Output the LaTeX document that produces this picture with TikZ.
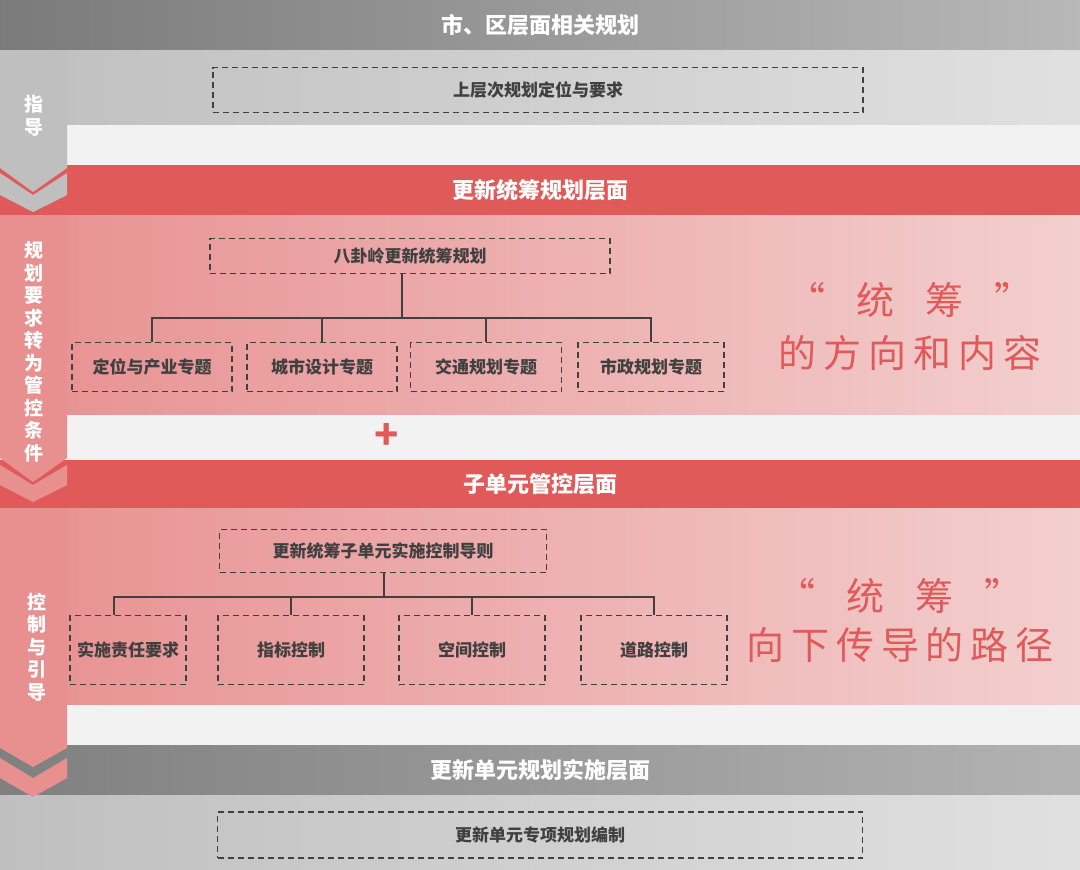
\documentclass[tikz,border=0pt]{standalone}
\usepackage{fontspec}
\setmainfont{Noto Sans CJK SC}
\usepackage{tikz}
\usetikzlibrary{positioning}
\definecolor{barred}{HTML}{E05A5A}
\definecolor{pinkband}{HTML}{E89090}
\definecolor{pinklight}{HTML}{F3CFCF}
\definecolor{boxtext}{HTML}{404040}
\tikzset{
  dbox/.style = {draw=boxtext, dashed, line width=1.3pt, dash pattern=on 6pt off 4pt,
                 font=\fontsize{17}{17}\selectfont\bfseries, text=boxtext, inner sep=0pt},
  bartitle/.style = {text=white, font=\fontsize{22}{22}\selectfont\bfseries},
  sidetext/.style = {text=white, font=\fontsize{19}{22.5}\selectfont\bfseries, align=center},
  bigred/.style = {text=barred, font=\fontsize{38}{38}\selectfont\addfontfeatures{LetterSpace=18}},
  branch/.style = {draw=boxtext, line width=1.3pt}
}
\begin{document}
\begin{tikzpicture}[x=1pt, y=-1pt]
        \useasboundingbox (0,0) rectangle (1080,870);
        % bands
        \shade [left color=black!52, right color=black!28] (0,0) rectangle (1080,50);
        \shade [left color=black!25, right color=black!12] (0,50) rectangle (1080,125);
        \fill [black!5] (0,125) rectangle (1080,165);
        \fill [barred] (0,165) rectangle (1080,215);
        \shade [left color=pinkband, right color=pinklight] (0,215) rectangle (1080,415);
        \fill [black!5] (0,415) rectangle (1080,460);
        \fill [barred] (0,460) rectangle (1080,508);
        \shade [left color=pinkband, right color=pinklight] (0,508) rectangle (1080,705);
        \fill [black!5] (0,705) rectangle (1080,745);
        \shade [left color=black!50, right color=black!30] (0,745) rectangle (1080,795);
        \shade [left color=black!25, right color=black!12] (0,795) rectangle (1080,870);

        % titles
        \node [bartitle] (t1) at (540,25) {市、区层面相关规划};
        \node [bartitle] (t2) at (540,190) {更新统筹规划层面};
        \node [bartitle] (t3) at (540,484) {子单元管控层面};
        \node [bartitle] (t4) at (540,770) {更新单元规划实施层面};

        % boxes
        \node [dbox, minimum width=650pt, minimum height=45pt] (up) at (538,90) {上层次规划定位与要求};
        \node [dbox, minimum width=400pt, minimum height=35pt] (bgl) at (410,256) {八卦岭更新统筹规划};
        \node [dbox, minimum width=160pt, minimum height=49pt] (a1) at (152,367) {定位与产业专题};
        \node [dbox, minimum width=150pt, minimum height=49pt] (a2) at (322,367) {城市设计专题};
        \node [dbox, minimum width=151pt, minimum height=49pt] (a3) at (486,367) {交通规划专题};
        \node [dbox, minimum width=146pt, minimum height=49pt] (a4) at (651,367) {市政规划专题};
        \node [dbox, minimum width=327pt, minimum height=43pt] (sub) at (383,551) {更新统筹子单元实施控制导则};
        \node [dbox, minimum width=116pt, minimum height=69pt, text width=116pt, align=center] (b1) at (128,650) {实施责任要求};
        \node [dbox, minimum width=146pt, minimum height=69pt] (b2) at (291,650) {指标控制};
        \node [dbox, minimum width=146pt, minimum height=69pt] (b3) at (472,650) {空间控制};
        \node [dbox, minimum width=146pt, minimum height=69pt] (b4) at (654,650) {道路控制};
        \node [dbox, minimum width=645pt, minimum height=46pt] (impl) at (540,835) {更新单元专项规划编制};

        % branches
        \coordinate (j1) at (402,318);
        \draw [branch] (402,273) -- (j1);
        \draw [branch] (a1.north) |- (j1) -| (a4.north);
        \draw [branch] (a2.north) -- (a2.north |- j1);
        \draw [branch] (a3.north) -- (a3.north |- j1);
        \coordinate (j2) at (384,597);
        \draw [branch] (sub.south -| j2) -- (j2);
        \draw [branch] (114,615) |- (j2) -| (b4.north);
        \draw [branch] (b2.north) -- (b2.north |- j2);
        \draw [branch] (b3.north) -- (b3.north |- j2);

        \node [text=barred, font=\fontsize{40}{40}\selectfont\bfseries] (plus) at (387,436) {+};

        % side arrows
        \fill [black!25] (0,50) -- (67,50) -- (67,168) -- (33,192) -- (0,168) -- cycle;
        \fill [black!25] (0,173) -- (33,195) -- (67,173) -- (67,195) -- (33,212) -- (0,195) -- cycle;
        \fill [pinkband] (0,215) -- (67,215) -- (67,458) -- (33,482) -- (0,458) -- cycle;
        \fill [pinkband] (0,465) -- (33,485) -- (67,465) -- (67,485) -- (33,502) -- (0,485) -- cycle;
        \fill [pinkband] (0,508) -- (67,508) -- (67,748) -- (33,767) -- (0,748) -- cycle;
        \fill [pinkband] (0,758) -- (33,778) -- (67,758) -- (67,778) -- (33,797) -- (0,778) -- cycle;
        \node [sidetext] (s1) at (34,116) {指\\导};
        \node [sidetext] (s2) at (34,352) {规\\划\\要\\求\\转\\为\\管\\控\\条\\件};
        \node [sidetext] (s3) at (37,647) {控\\制\\与\\引\\导};

        % right slogans
        \node [bigred] (r1) at (910,300) {“\ \ 统\ \ 筹\ \ ”};
        \node [bigred] (r2) at (910,353) {的方向和内容};
        \node [bigred] (r3) at (900,596) {“\ \ 统\ \ 筹\ \ ”};
        \node [bigred] (r4) at (900,645) {向下传导的路径};
    \end{tikzpicture}
\end{document}
